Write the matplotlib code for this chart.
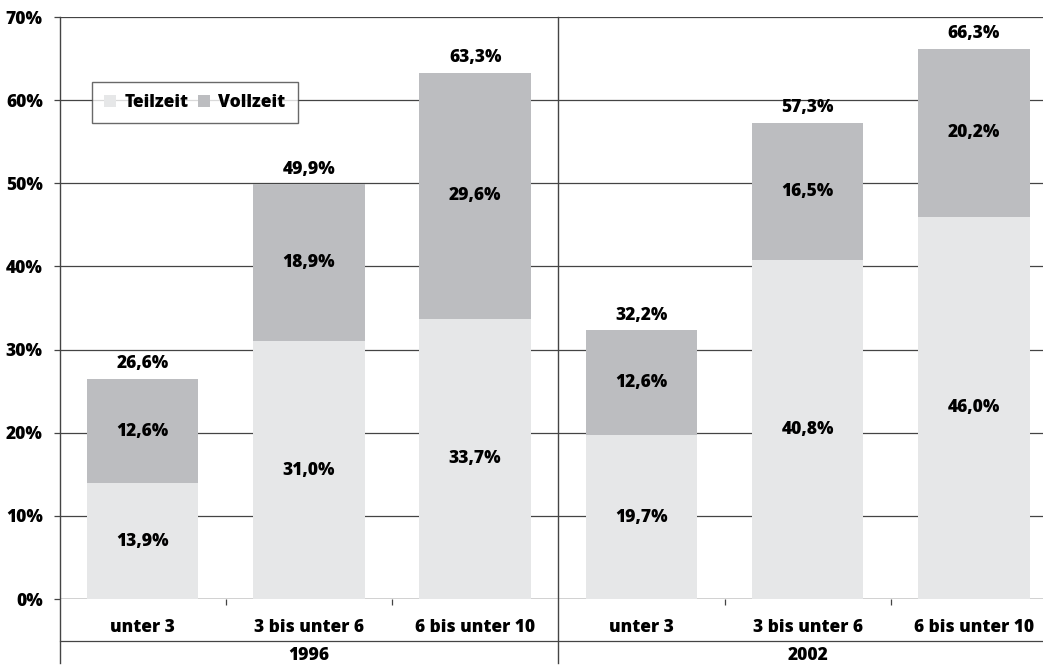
import matplotlib
matplotlib.use("Agg")
import matplotlib.pyplot as plt
from matplotlib.patches import Patch

plt.rcParams['font.family'] = ['Open Sans', 'DejaVu Sans']

years = ["1996", "2002"]
categories = ["unter 3", "3 bis unter 6", "6 bis unter 10"]
teilzeit = [13.9, 31.0, 33.7, 19.7, 40.8, 46.0]
vollzeit = [12.6, 18.9, 29.6, 12.6, 16.5, 20.2]
totals = [26.6, 49.9, 63.3, 32.2, 57.3, 66.3]
yticks = [0, 10, 20, 30, 40, 50, 60, 70]

fmt = lambda v: f"{v:.1f}".replace(".", ",") + "%"

C_TZ = "#e6e7e8"
C_VZ = "#bcbdc0"
LINE = "#444444"
FW = 800

W, H = 1043, 666
fig = plt.figure(figsize=(W / 100, H / 100), dpi=100)
x0, x1, ytop, ybot = 59.5, 1057.0, 17.0, 599.0
ax = fig.add_axes([x0 / W, (H - ybot) / H, (x1 - x0) / W, (ybot - ytop) / H])

n = len(teilzeit)
xs = [i + 0.5 for i in range(n)]
bw = 0.67
ax.bar(xs, teilzeit, width=bw, color=C_TZ, zorder=2)
ax.bar(xs, vollzeit, width=bw, bottom=teilzeit, color=C_VZ, zorder=2)

fs = 12.5
for x, t, v, tot in zip(xs, teilzeit, vollzeit, totals):
    ax.text(x, t / 2, fmt(t), ha="center", va="center", fontsize=fs, fontweight=FW, zorder=3)
    ax.text(x, t + v / 2, fmt(v), ha="center", va="center", fontsize=fs, fontweight=FW, zorder=3)
    ax.annotate(fmt(tot), (x, t + v), xytext=(0, 4.5), textcoords="offset points",
                ha="center", va="bottom", fontsize=fs, fontweight=FW)

ax.set_xlim(0, n)
ax.set_ylim(0, 70)
ax.set_yticks(yticks)
ax.set_yticklabels([f"{t}%" for t in yticks], fontsize=fs, fontweight=FW)
ax.yaxis.grid(True, color=LINE, lw=0.9, zorder=1)
ax.set_axisbelow(True)
ax.tick_params(axis="y", length=4, width=0.9, color=LINE, pad=8)

ax.set_xticks([1, 2, 4, 5])
ax.set_xticklabels([])
ax.tick_params(axis="x", length=4, width=0.9, color=LINE)

for s in ["top", "right", "bottom", "left"]:
    ax.spines[s].set_visible(False)

ph = ybot - ytop
low = -(663 - ybot) / ph
ax.axvline(0, ymin=low, ymax=1, color=LINE, lw=1.0, clip_on=False)
ax.axvline(3, ymin=low, ymax=1, color=LINE, lw=1.0, clip_on=False)
ax.axhline(0, color=LINE, lw=0.9, zorder=1)
sep_y = -(641 - ybot) / ph
ax.plot([0, 1], [sep_y, sep_y], transform=ax.transAxes, color=LINE, lw=0.9, clip_on=False)

cat_y = -(627 - ybot) / ph
year_y = -(656 - ybot) / ph
trans = ax.get_xaxis_transform()
for i, x in enumerate(xs):
    ax.text(x, cat_y, categories[i % 3], transform=trans, ha="center", va="center",
            fontsize=fs, fontweight=FW)
for g, yr in enumerate(years):
    ax.text(g * 3 + 1.5, year_y, yr, transform=trans, ha="center", va="center",
            fontsize=fs, fontweight=FW)

handles = [Patch(facecolor=C_TZ, edgecolor="none", label="Teilzeit"),
           Patch(facecolor=C_VZ, edgecolor="none", label="Vollzeit")]
leg = ax.legend(handles=handles, loc="upper left",
                bbox_to_anchor=((92 - x0) / (x1 - x0), (ybot - 82) / ph),
                ncol=2, frameon=True, fancybox=False, borderaxespad=0,
                handlelength=0.7, handleheight=0.7, handletextpad=0.5, columnspacing=0.5,
                borderpad=0.7, prop={"size": fs, "weight": FW})
leg.get_frame().set_edgecolor(LINE)
leg.get_frame().set_linewidth(1.0)

fig.savefig("out.png", dpi=100)
